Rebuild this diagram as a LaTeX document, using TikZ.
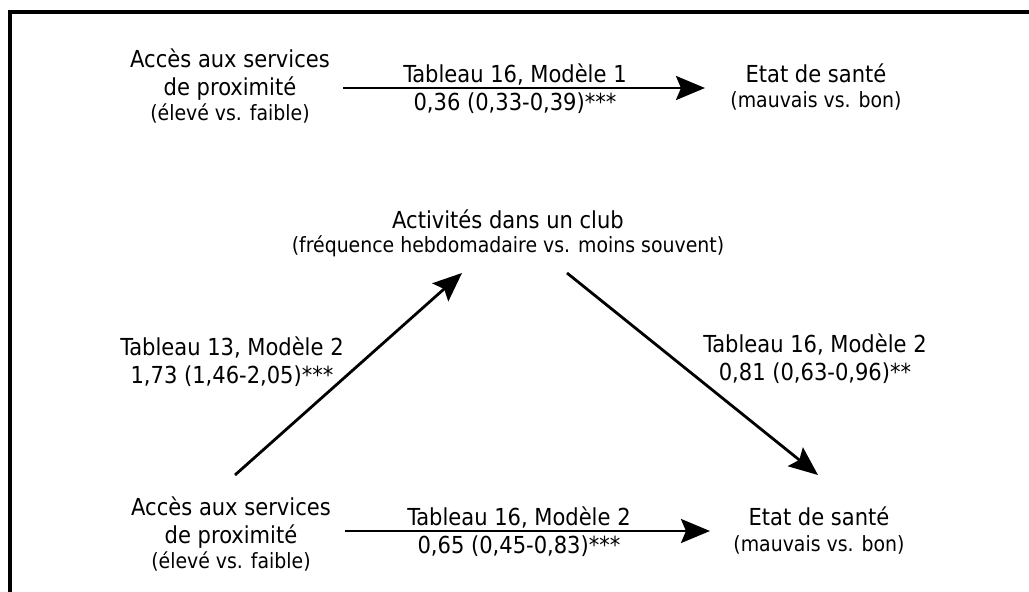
\documentclass[tikz,border=0pt]{standalone}
\usepackage{fontspec}
\setmainfont{DejaVu Sans Condensed}
\usetikzlibrary{arrows.meta,calc}
\newcommand\smallline{\fontsize{21}{25}\selectfont}
\begin{document}
\begin{tikzpicture}[x=1pt,y=-1pt,
  concept/.style={align=center,inner sep=0pt,font=\fontsize{23.4}{28}\selectfont},
  lab/.style={align=center,inner sep=0pt,font=\fontsize{23.4}{28}\selectfont},
  arr/.style={line width=2.8pt,-{Stealth[length=29pt,width=24pt,inset=5pt]}},
  frame/.style={line width=3.2pt}]
\useasboundingbox (0,0) rectangle (1029,592);
\draw[frame] (1040,12) -- (10,12) -- (10,605);

\node[concept] (topL) at (230,86.5) {Accès aux services\\de proximité\\[-3pt]{\smallline (élevé vs. faible)}};
\node[concept] (topR) at (816,87) {Etat de santé\\[-3pt]{\smallline (mauvais vs. bon)}};
\node[concept] (mid) at (508,233.5) {Activités dans un club\\[-4pt]{\smallline (fréquence hebdomadaire vs. moins souvent)}};
\node[concept] (botL) at (231,534.5) {Accès aux services\\de proximité\\[-3pt]{\smallline (élevé vs. faible)}};
\node[concept] (botR) at (819,531) {Etat de santé\\[-2pt]{\smallline (mauvais vs. bon)}};

\node[lab] (lab1) at (515,88.5) {Tableau 16, Modèle 1\\0,36 (0,33-0,39)***};
\node[lab] (lab2) at (232,361.5) {Tableau 13, Modèle 2\\1,73 (1,46-2,05)***};
\node[lab] (lab3) at (815,359) {Tableau 16, Modèle 2\\0,81 (0,63-0,96)**};
\node[lab] (lab4) at (519,531.5) {Tableau 16, Modèle 2\\0,65 (0,45-0,83)***};

\draw[arr] ($(topL.center)+(113,1.5)$) -- ($(topR.center)+(-111,1)$);
\draw[arr] ($(botL.center)+(114,-3.5)$) -- ($(botR.center)+(-109,0)$);
\draw[arr] ($(botL.center)+(4,-59.5)$) -- ($(mid.center)+(-46,39.5)$);
\draw[arr] ($(mid.center)+(59,39.5)$) -- ($(botR.center)+(-1,-56)$);
\end{tikzpicture}
\end{document}
